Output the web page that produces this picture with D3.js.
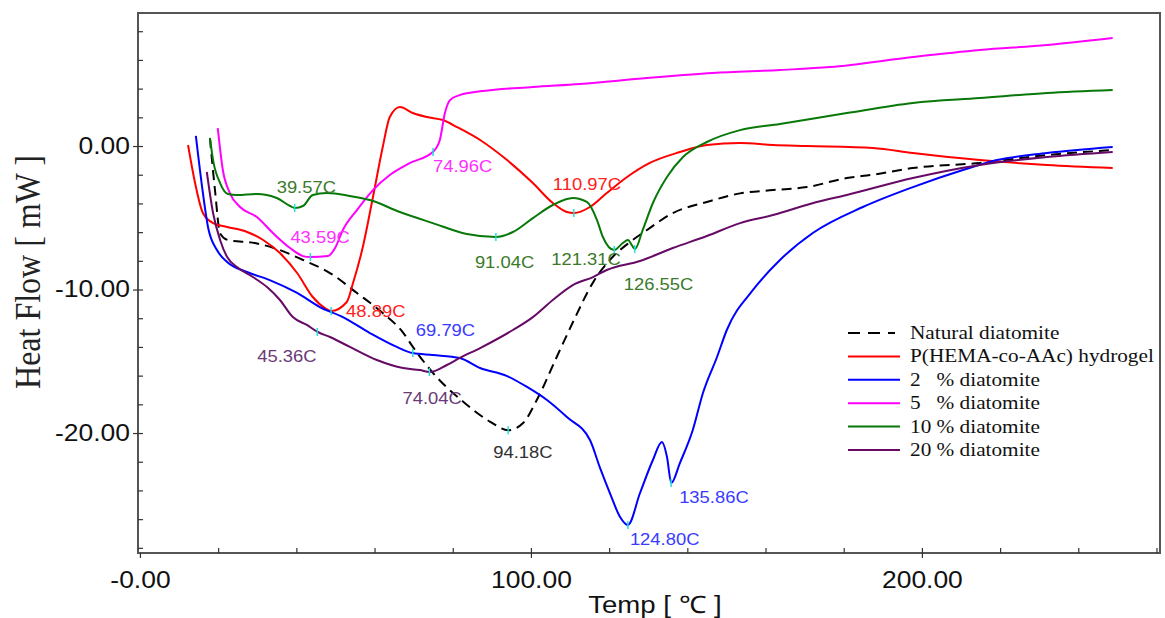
<!DOCTYPE html>
<html>
<head>
<meta charset="utf-8">
<script src="https://cdn.jsdelivr.net/npm/d3@7/dist/d3.min.js"></script>
<style>
body{margin:0;background:#fff}
</style>
</head>
<body>
<div id="a"></div>
<script>
// DSC curves, temp in C and heat flow in mW
var natT  = [17.9,19.2,20.5,22.5,29.4,35.8,41.7,48.6,55.5,62.1,67.3,69.8,74.9,82.6,89.5,94.2,98.0,101.5,106.6,110.7,115.9,121.0,125.3,129.7,136.3,145.0,153.5,161.9,170.6,180.8,187.5,197.7,214.8,232.0,248.8]
var natHF = [0.56,-3.1,-6.1,-6.55,-6.76,-7.25,-7.94,-8.85,-10.24,-11.64,-13.0,-14.0,-15.8,-17.8,-19.2,-19.8,-19.3,-17.7,-14.7,-12.3,-9.5,-7.7,-6.7,-5.85,-4.67,-3.9,-3.3,-3.07,-2.86,-2.23,-2.0,-1.53,-1.18,-0.63,-0.28]

var gelT  = [12.3,14.1,16.1,18.7,22.3,27.4,31.5,35.8,40.2,44.2,47.3,48.9,52.9,54.5,57.0,59.6,62.1,63.9,66.5,69.8,73.4,77.5,81.1,87.0,93.9,100.5,105.6,109.2,111.0,115.1,119.4,124.6,130.4,138.1,145.0,153.5,161.9,170.6,187.5,197.7,214.8,232.0,248.8]
var gelHF = [0.07,-2.58,-4.67,-5.37,-5.64,-5.99,-6.55,-7.46,-8.85,-10.52,-11.29,-11.5,-10.87,-9.55,-7.04,-3.55,-0.07,2.02,2.72,2.3,2.02,1.81,1.32,0.42,-0.98,-2.58,-3.97,-4.6,-4.67,-4.25,-3.28,-2.16,-1.18,-0.42,0.07,0.21,0.07,0.0,-0.14,-0.49,-0.98,-1.32,-1.53]

var d2T  = [14.3,15.9,17.4,19.7,22.3,27.4,33.2,40.2,46.0,51.9,58.8,65.7,69.8,74.9,81.8,87.0,93.9,99.0,104.1,109.2,115.1,117.6,120.2,122.8,124.8,127.9,131.2,133.5,134.8,135.9,138.1,141.4,144.0,147.6,150.1,156.8,163.7,172.1,184.9,197.7,210.5,219.2,232.0,248.8]
var d2HF = [0.7,-2.86,-5.64,-7.25,-8.08,-8.78,-9.34,-10.24,-11.22,-11.92,-13.03,-14.0,-14.43,-14.56,-14.77,-15.47,-16.03,-16.79,-17.7,-18.89,-20.49,-22.37,-24.18,-25.85,-26.41,-24.18,-21.88,-20.63,-21.67,-23.48,-22.09,-19.79,-17.21,-14.7,-12.82,-10.03,-7.94,-6.06,-4.25,-2.86,-1.67,-0.98,-0.49,-0.07]

var d5T  = [19.9,21.2,23.0,25.6,29.9,34.0,38.4,41.7,43.6,48.1,49.9,51.9,55.5,59.6,63.9,69.1,74.9,76.7,78.0,79.3,81.8,87.7,100.5,112.5,129.7,146.5,163.7,176.5,197.7,214.8,232.0,248.8]
var d5HF = [1.25,-1.67,-3.28,-4.25,-4.95,-6.06,-7.11,-7.67,-7.74,-7.67,-7.11,-5.85,-4.46,-3.07,-2.02,-1.18,-0.42,0.42,2.3,3.2,3.55,3.83,4.11,4.32,4.74,5.09,5.3,5.5,6.2,6.69,7.04,7.53]

var d10T  = [17.9,18.7,20.5,22.5,24.8,29.9,35.0,38.4,39.6,41.7,44.2,47.8,53.7,58.8,66.5,74.9,83.6,91.0,95.4,100.5,105.6,110.7,114.3,116.9,118.4,121.3,123.5,124.8,125.8,126.6,128.6,131.2,134.8,138.9,145.0,153.5,163.7,180.8,197.7,214.8,232.0,248.8]
var d10HF = [0.56,-0.98,-2.58,-3.34,-3.41,-3.34,-3.62,-4.18,-4.32,-4.18,-3.41,-3.28,-3.48,-3.76,-4.6,-5.37,-6.13,-6.34,-5.99,-5.02,-4.11,-3.62,-3.9,-5.16,-6.34,-7.25,-6.76,-6.55,-6.9,-7.18,-5.85,-3.97,-2.16,-0.77,0.28,1.11,1.53,2.3,3.0,3.34,3.69,3.9]

var d20T  = [17.1,18.7,20.5,22.3,24.8,28.9,32.5,35.8,39.1,42.7,45.5,48.6,53.7,60.6,67.3,71.6,74.2,78.5,81.8,87.0,95.4,100.5,105.6,110.7,115.9,119.4,127.9,136.3,145.0,153.5,161.9,173.1,180.8,197.7,214.8,232.0,248.8]
var d20HF = [-1.81,-4.67,-6.55,-7.74,-8.43,-9.13,-9.83,-10.73,-11.92,-12.47,-12.96,-13.31,-14.0,-14.91,-15.47,-15.61,-15.75,-15.26,-14.77,-14.08,-12.82,-11.92,-10.73,-9.69,-9.13,-8.64,-8.01,-7.11,-6.27,-5.37,-4.81,-3.9,-3.41,-2.23,-1.32,-0.77,-0.42]

var seriesNames = ["Natural diatomite","P(HEMA-co-AAc) hydrogel","2   % diatomite","5   % diatomite","10 % diatomite","20 % diatomite"]
var seriesColors = ["#000000","#ff0000","#0000ff","#ff00ff","#087808","#660a66"]
var labelColors = ["#303030","#ff2020","#3a3aff","#ff30ff","#3a7a2a","#6a3a78"]

// peak temperatures marked on the curves
var peakSeries = [0,1,1,2,2,2,3,3,4,4,4,4,5,5]
var peakT  = [94.18,48.89,110.97,69.79,124.80,135.86,43.59,74.96,39.57,91.04,121.31,126.55,45.36,74.04]
var peakHF = [-19.8,-11.5,-4.67,-14.43,-26.41,-23.48,-7.74,-0.42,-4.32,-6.34,-7.25,-7.18,-12.96,-15.75]
var peakDx = [-15,15,-21,3,2,8,-20,0,-18,-21,-63,-11,-60,-27]
var peakDy = [28,6,-23,-17,20,20,-14,20,-15,31,15,41,30,32]

var xMajor = [0,100,200], xMajorLabels = ["-0.00","100.00","200.00"]
var yMajor = [0,-10,-20], yMajorLabels = ["0.00","-10.00","-20.00"]

var sx = 1.15 // the picture is stretched sideways, so is its text
var sans = "'Liberation Sans',Arial,sans-serif", serif = "'Liberation Serif','Times New Roman',serif"

svg = d3.select("#a").append("svg")
	.attr("width",1165)
	.attr("height",618)
	.style("background-color","#fff")

x = d3.scaleLinear().domain([-0.5,260.9]).range([138,1160])
y = d3.scaleLinear().domain([9.27,-28.36]).range([13,553])

// frame
svg.append("rect").attr("x",138).attr("y",13).attr("width",1022).attr("height",540)
	.attr("fill","none").attr("stroke","#555").attr("stroke-width",2)

// minor ticks, inside
svg.append("g").attr("transform","translate(0,553)")
	.call(d3.axisTop(x).tickValues(d3.range(20,261,20)).tickSize(5).tickFormat(""))
	.call(g=>g.select(".domain").remove())
svg.append("g").attr("transform","translate(138,0)")
	.call(d3.axisRight(y).tickValues(d3.range(-28,9,2)).tickSize(5).tickFormat(""))
	.call(g=>g.select(".domain").remove())

// major ticks with labels
xAx = svg.append("g").attr("transform","translate(0,553)")
	.call(d3.axisBottom(x).tickValues(xMajor).tickSize(5).tickPadding(9).tickFormat((d,i)=>xMajorLabels[i]))
xAx.select(".domain").remove()
xAx.selectAll("text").attr("font-size",23).attr("fill","#111").style("font-family",sans)
	.attr("transform","scale("+sx+",1)").attr("dy","0.9em")
yAx = svg.append("g").attr("transform","translate(138,0)")
	.call(d3.axisLeft(y).tickValues(yMajor).tickSize(5).tickPadding(2).tickFormat((d,i)=>yMajorLabels[i]))
yAx.select(".domain").remove()
yAx.selectAll("text").attr("font-size",23).attr("fill","#111").style("font-family",sans)
	.attr("transform","scale("+sx+",1)")
svg.selectAll(".tick line").attr("stroke","#333").attr("stroke-width",1.2)

// axis titles
svg.append("text").attr("transform","translate(40,272) scale("+sx+",1) rotate(-90)")
	.attr("text-anchor","middle").style("font-family",serif).attr("font-size",32)
	.attr("fill","#222").style("white-space","pre").text("Heat Flow [ mW ]")
svg.append("text").attr("transform","translate(655,613) scale("+sx+",1)")
	.attr("text-anchor","middle").attr("font-size",24).attr("fill","#111").style("font-family",sans)
	.style("white-space","pre").text("Temp [ ℃ ]")

// curves
var allT = [natT,gelT,d2T,d5T,d10T,d20T]
var allHF = [natHF,gelHF,d2HF,d5HF,d10HF,d20HF]
line = d3.line().x(d=>x(d[0])).y(d=>y(d[1])).curve(d3.curveMonotoneX)
allT.forEach(function(ts,k){
	svg.append("path")
		.datum(ts.map((t,i)=>[t,allHF[k][i]]))
		.attr("d",line)
		.attr("fill","none")
		.attr("stroke",seriesColors[k])
		.attr("stroke-width",2)
		.attr("stroke-dasharray",k==0?"10,6":null)
})

// peak marks and labels
svg.selectAll(".pk").data(peakT).enter().append("line")
	.attr("x1",(d,i)=>x(d)).attr("x2",(d,i)=>x(d))
	.attr("y1",(d,i)=>y(peakHF[i])-4).attr("y2",(d,i)=>y(peakHF[i])+4)
	.attr("stroke","#20e0e0").attr("stroke-width",1.5)
svg.selectAll(".pl").data(peakT).enter().append("text")
	.attr("transform",(d,i)=>"translate("+(x(d)+peakDx[i])+","+(y(peakHF[i])+peakDy[i])+") scale("+sx+",1)")
	.attr("font-size",16).style("font-family",sans)
	.attr("fill",(d,i)=>labelColors[peakSeries[i]])
	.text(d=>d3.format(".2f")(d)+"C")

// legend
leg = svg.append("g").attr("transform","translate(848,333)")
seriesNames.forEach(function(n,k){
	leg.append("line").attr("x1",0).attr("x2",k==0?47:52).attr("y1",k*23.4).attr("y2",k*23.4)
		.attr("stroke",seriesColors[k]).attr("stroke-width",2)
		.attr("stroke-dasharray",k==0?"12,8":null)
	leg.append("text").attr("transform","translate(62,"+(k*23.4+6)+") scale("+sx+",1)")
		.style("font-family",serif).attr("font-size",18.5).attr("fill","#111")
		.style("white-space","pre").text(n)
})
</script>
</body>
</html>
